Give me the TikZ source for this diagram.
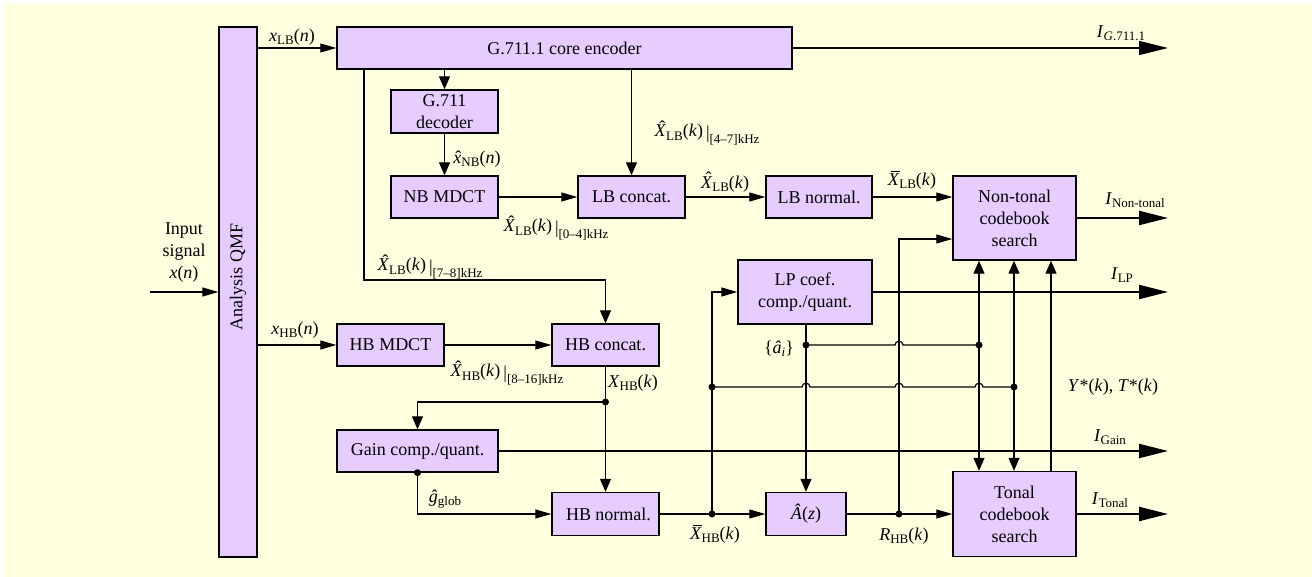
\documentclass[tikz,border=0pt]{standalone}
\usepackage{fontspec}
\setmainfont{Liberation Serif}
\usetikzlibrary{arrows.meta}
\definecolor{paper}{RGB}{255,255,224}
\definecolor{blockfill}{RGB}{230,204,255}
% lowered small text for indices
\newcommand\subx[1]{\raisebox{-0.4ex}{\fontsize{13}{13}\selectfont #1}}
\newcommand\subband[1]{\,\raisebox{-0.15ex}{|}\raisebox{-0.8ex}{\fontsize{13}{13}\selectfont [#1]kHz}}
\newcommand\vi[1]{\textit{#1}}
% accents built by hand over italic letters
\newcommand\hatc[1]{{\setbox0\hbox{\textit{#1}}\rlap{\hbox to\wd0{\hss\hskip0.22em\raisebox{0.2em}{\textup{ˆ}}\hss}}\box0}}
\newcommand\hatl[1]{{\setbox0\hbox{\textit{#1}}\rlap{\hbox to\wd0{\hss\hskip0.1em\textup{ˆ}\hss}}\box0}}
\newcommand\barc[1]{{\setbox0\hbox{\textit{#1}}\rlap{\hbox to\wd0{\hss\hskip0.2em\rule[0.76em]{0.5em}{0.05em}\hss}}\box0}}
\begin{document}
\begin{tikzpicture}[x=1pt,y=-1pt,
  font=\fontsize{18}{22}\selectfont,
  blk/.style={draw=black,fill=blockfill,line width=1.4pt,inner sep=0pt,align=center},
  wire/.style={line width=1.2pt},
  harr/.style={wire,-{Triangle[length=16pt,width=9pt]}},
  varr/.style={wire,-{Triangle[length=13pt,width=11pt]}},
  outthin/.style={line width=1.3pt,-{Triangle[length=29pt,width=14pt]}},
  outthick/.style={line width=2.2pt,-{Triangle[length=29pt,width=14pt]}},
  dot/.style={circle,fill=black,inner sep=0pt,minimum size=7pt},
  lbl/.style={inner sep=0pt}]
\useasboundingbox (0,0) rectangle (1312,577);
\fill[paper] (4,4) rectangle (1312,577);

% ---- blocks ----
\node[blk,minimum width=38pt,minimum height=530pt] (qmf) at (238,292) {};
\node[lbl,rotate=90] (qmft) at (238,277) {Analysis QMF};
\node[blk,minimum width=455pt,minimum height=42pt] (core) at (564.5,48) {G.711.1 core encoder};
\node[blk,minimum width=107pt,minimum height=43pt] (dec) at (444.5,111.5) {G.711\\decoder};
\node[blk,minimum width=107pt,minimum height=42pt] (nbm) at (444.5,197) {NB MDCT};
\node[blk,minimum width=107pt,minimum height=42pt] (lbc) at (631.5,197) {LB concat.};
\node[blk,minimum width=106pt,minimum height=42pt] (lbn) at (819,197) {LB normal.};
\node[blk,minimum width=123pt,minimum height=84pt] (nt) at (1014.5,218) {Non-tonal\\codebook\\search};
\node[blk,minimum width=134pt,minimum height=64pt] (lp) at (805,292) {LP coef.\\comp./quant.};
\node[blk,minimum width=107pt,minimum height=42pt] (hbm) at (390.5,345) {HB MDCT};
\node[blk,minimum width=107pt,minimum height=42pt] (hbc) at (605.5,345) {HB concat.};
\node[blk,minimum width=161pt,minimum height=42pt] (gain) at (417.5,451) {Gain comp./quant.};
\node[blk,minimum width=107pt,minimum height=43pt] (hbn) at (605.5,514) {\hspace{6pt}HB normal.};
\node[blk,minimum width=80pt,minimum height=43pt] (az) at (806,514) {\vi{\^{A}}(\vi{z})};
\node[blk,minimum width=123pt,minimum height=85pt] (ton) at (1014.5,514) {Tonal\\codebook\\search};

% ---- free ends and bends ----
\coordinate (inp) at (150,292);
\coordinate (oG) at (1168,48);
\coordinate (oNT) at (1168,218);
\coordinate (oLP) at (1168,292);
\coordinate (oGain) at (1168,451);
\coordinate (oT) at (1168,514);
\coordinate (b1) at (364,280);
\coordinate (r1) at (899,239);
\coordinate (c3x) at (1051,0);

% ---- junction points ----
\path (605.5,402) coordinate (dxp);
\path (712,514) coordinate (dxbp);
\path (712,387) coordinate (dxap);
\path (806,345) coordinate (dap);
\path (899,514) coordinate (drp);
\path (979,345) coordinate (dc1p);
\path (1014,387) coordinate (dc2p);

% ---- connectors ----
\draw[harr] (inp) -- (inp -| qmf.west);
\draw[harr] (qmf.east |- core.west) -- (core.west);
\draw[outthin] (core.east) -- (oG);
\draw[varr] (dec.north |- core.south) -- (dec.north);
\draw[varr] (dec.south) -- (nbm.north);
\draw[harr] (nbm.east) -- (lbc.west);
\draw[varr] (lbc.north |- core.south) -- (lbc.north);
\draw[harr] (lbc.east) -- (lbn.west);
\draw[harr] (lbn.east) -- (lbn.east -| nt.west);
\draw[outthick] (nt.east) -- (oNT);
\draw[varr] (b1 |- core.south) -- (b1) -- (b1 -| hbc.north) -- (hbc.north);
\draw[harr] (qmf.east |- hbm.west) -- (hbm.west);
\draw[harr] (hbm.east) -- (hbc.west);
\draw[varr] (hbc.south) -- (hbn.north);
\draw[varr] (dxp) -- (dxp -| gain.north) -- (gain.north);
\draw[outthick] (gain.east) -- (oGain);
\draw[harr] (gain.south) -- (gain.south |- hbn.west) -- (hbn.west);
\draw[harr] (hbn.east) -- (az.west);
\draw[harr] (dxbp) -- (dxbp |- lp.west) -- (lp.west);
\draw[outthick] (lp.east) -- (oLP);
\draw[varr] (az.north |- lp.south) -- (az.north);
\draw[harr] (az.east) -- (ton.west);
\draw[harr] (drp) -- (r1) -- (r1 -| nt.west);
\draw[outthick] (ton.east) -- (oT);
% coefficient and shape lines hop over the vertical wires
\draw[wire] (dap) -- (895,345) .. controls (895,340) and (903,340) .. (903,345) -- (dc1p);
\draw[wire] (dxap) -- (802,387) .. controls (802,382) and (810,382) .. (810,387)
  -- (895,387) .. controls (895,382) and (903,382) .. (903,387)
  -- (975,387) .. controls (975,382) and (983,382) .. (983,387) -- (dc2p);
\draw[varr] (dc1p) -- (dc1p |- nt.south);
\draw[varr] (dc1p) -- (dc1p |- ton.north);
\draw[varr] (dc2p) -- (dc2p |- nt.south);
\draw[varr] (dc2p) -- (dc2p |- ton.north);
\draw[varr] (c3x |- ton.north) -- (c3x |- nt.south);

% ---- dots ----
\node[dot] (dx) at (dxp) {};
\node[dot] (dg) at (gain.south) {};
\node[dot] (dxb) at (dxbp) {};
\node[dot] (dxa) at (dxap) {};
\node[dot] (da) at (dap) {};
\node[dot] (dr) at (drp) {};
\node[dot] (dc1) at (dc1p) {};
\node[dot] (dc2) at (dc2p) {};

% ---- labels ----
\node[lbl,align=center] (inl) at (184,253) {Input\\signal\\\vi{x}(\vi{n})};
\node[lbl] (l1) at (292,37) {\vi{x}\subx{LB}(\vi{n})};
\node[lbl] (l2) at (1121,33) {\vi{I}\subx{\vi{G}.711.1}};
\node[lbl] (l3) at (477,159) {\hatl{x}\subx{NB}(\vi{n})};
\node[lbl] (l4) at (707,133) {\hatc{X}\subx{LB}(\vi{k})\subband{4--7}};
\node[lbl] (l5) at (725,182) {\hatc{X}\subx{LB}(\vi{k})};
\node[lbl] (l6) at (912,180) {\barc{X}\subx{LB}(\vi{k})};
\node[lbl] (l7) at (1135,200) {\vi{I}\subx{Non-tonal}};
\node[lbl] (l8) at (556,228) {\hatc{X}\subx{LB}(\vi{k})\subband{0--4}};
\node[lbl] (l9) at (430,267) {\hatc{X}\subx{LB}(\vi{k})\subband{7--8}};
\node[lbl] (l10) at (295,330) {\vi{x}\subx{HB}(\vi{n})};
\node[lbl] (l11) at (507,373) {\hatc{X}\subx{HB}(\vi{k})\subband{8--16}};
\node[lbl] (l12) at (633,383) {\vi{X}\subx{HB}(\vi{k})};
\node[lbl] (l13) at (779,349) {\{\vi{\^{a}}\subx{\vi{i}}\}};
\node[lbl] (l14) at (1113,387) {\vi{Y}*(\vi{k}), \vi{T}*(\vi{k})};
\node[lbl] (l15) at (1122,275) {\vi{I}\subx{LP}};
\node[lbl] (l16) at (1110,437) {\vi{I}\subx{Gain}};
\node[lbl] (l17) at (1110,500) {\vi{I}\subx{Tonal}};
\node[lbl] (l18) at (904,536) {\vi{R}\subx{HB}(\vi{k})};
\node[lbl] (l19) at (715,534) {\barc{X}\subx{HB}(\vi{k})};
\node[lbl] (l20) at (445,499) {\vi{\^{g}}\subx{glob}};
\end{tikzpicture}
\end{document}
